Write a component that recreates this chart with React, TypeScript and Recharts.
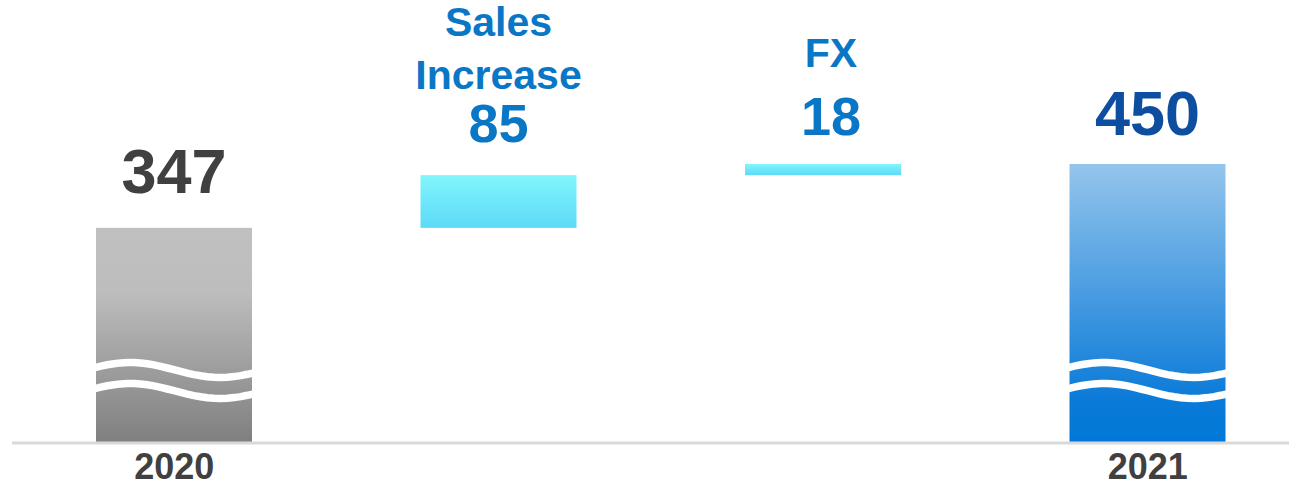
import { Bar, BarChart, XAxis, YAxis } from "recharts";

const categories = ["2020", "Sales Increase", "FX", "2021"];
const values = [347, 85, 18, 450];
const isTotal = [true, false, false, true];

// floating bars start where the previous running total ends
const data = categories.map((category, i) => {
  const before = values.slice(0, i).reduce((s, v) => s + v, 0);
  return { category, value: values[i], base: isTotal[i] ? 0 : before };
});

const FONT = '"Liberation Sans", Arial, sans-serif';
const fills = ["url(#gGrey)", "url(#gCyan)", "url(#gCyan)", "url(#gBlue)"];
const valueColors = ["#404040", "#0a77c6", "#0a77c6", "#0d4ea0"];
const valueSizes = [63, 54, 54, 63];
const valueGap = [35, 33, 29, 29];
const titleGap = [0, 53, 68, 0];
const labelShift = [0, 0, 8, 0];

function wavePath(x0: number, x1: number, cy: number) {
  const w = x1 - x0;
  const peak = x0 + 0.22 * w;
  const period = 1.15 * w;
  const pts: string[] = [];
  for (let k = 0; k <= 24; k++) {
    const x = x0 - 2 + ((w + 4) * k) / 24;
    const y = cy - 7.5 * Math.cos((2 * Math.PI * (x - peak)) / period);
    pts.push(`${k === 0 ? "M" : "L"}${x.toFixed(1)},${y.toFixed(1)}`);
  }
  return pts.join(" ");
}

const BarShape = (props: any) => {
  const { x, y, width, height, index } = props;
  const cx = x + width / 2 + labelShift[index];
  const bottom = y + height;
  const vy = y - valueGap[index];
  const title = isTotal[index] ? [] : categories[index].split(" ");
  return (
    <g>
      <rect x={x} y={y} width={width} height={height} fill={fills[index]} />
      {isTotal[index] && (
        <g fill="none" stroke="#ffffff" strokeWidth={7.5}>
          <path d={wavePath(x, x + width, bottom - 73)} />
          <path d={wavePath(x, x + width, bottom - 52)} />
        </g>
      )}
      {title.map((t, k) => (
        <text
          key={t}
          x={cx}
          y={vy - titleGap[index] - (title.length - 1 - k) * 53}
          textAnchor="middle"
          fontFamily={FONT}
          fontWeight="bold"
          fontSize={41}
          fill={valueColors[index]}
        >
          {t}
        </text>
      ))}
      <text
        x={cx}
        y={vy}
        textAnchor="middle"
        fontFamily={FONT}
        fontWeight="bold"
        fontSize={valueSizes[index]}
        fill={valueColors[index]}
      >
        {values[index]}
      </text>
    </g>
  );
};

const YearTick = (props: any) => {
  const { x, y, payload, index } = props;
  if (!isTotal[index]) return null;
  return (
    <text
      x={x}
      y={y + 36}
      textAnchor="middle"
      fontFamily={FONT}
      fontWeight="bold"
      fontSize={36}
      fill="#404040"
    >
      {payload.value}
    </text>
  );
};

export default function App() {
  return (
    <div
      style={{
        position: "absolute",
        left: 0,
        top: 0,
        width: 1289,
        height: 486,
        overflow: "hidden",
        background: "#ffffff",
      }}
    >
      <BarChart
        width={1310}
        height={486}
        data={data}
        margin={{ top: 9, right: 0, left: 12, bottom: 0 }}
      >
        <defs>
          <linearGradient id="gGrey" x1="0" y1="0" x2="0" y2="1">
            <stop offset="0" stopColor="#c0c0c0" />
            <stop offset="0.3" stopColor="#bdbdbd" />
            <stop offset="1" stopColor="#7f7f7f" />
          </linearGradient>
          <linearGradient id="gCyan" x1="0" y1="0" x2="0" y2="1">
            <stop offset="0" stopColor="#82f5fd" />
            <stop offset="1" stopColor="#5cdaf7" />
          </linearGradient>
          <linearGradient id="gBlue" x1="0" y1="0" x2="0" y2="1">
            <stop offset="0" stopColor="#94c5ec" />
            <stop offset="0.85" stopColor="#0a7ad8" />
            <stop offset="1" stopColor="#0078d7" />
          </linearGradient>
        </defs>
        <XAxis
          dataKey="category"
          height={43}
          axisLine={{ stroke: "#d9d9d9", strokeWidth: 3 }}
          tickLine={false}
          tickSize={0}
          tickMargin={0}
          interval={0}
          tick={<YearTick />}
        />
        <YAxis hide domain={[0, 700]} />
        <Bar
          dataKey="base"
          stackId="w"
          fill="transparent"
          barSize={156}
          isAnimationActive={false}
        />
        <Bar
          dataKey="value"
          stackId="w"
          barSize={156}
          shape={<BarShape />}
          isAnimationActive={false}
        />
      </BarChart>
    </div>
  );
}
